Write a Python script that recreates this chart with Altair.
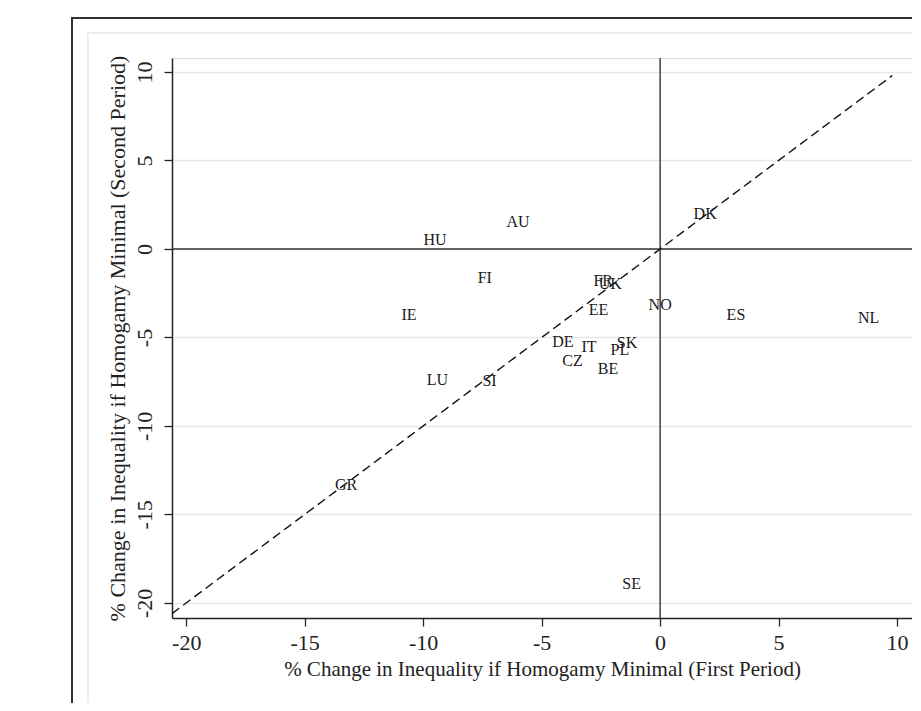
import altair as alt
import pandas as pd

countries = ["DK", "AU", "HU", "FI", "FR", "UK", "NO", "IE", "EE", "ES", "NL",
             "DE", "SK", "IT", "PL", "CZ", "BE", "LU", "SI", "GR", "SE"]
first_period = [1.9, -6.0, -9.5, -7.4, -2.4, -2.1, 0.0, -10.6, -2.6, 3.2, 8.8,
                -4.1, -1.4, -3.0, -1.7, -3.7, -2.2, -9.4, -7.2, -13.25, -1.2]
second_period = [2.0, 1.5, 0.5, -1.65, -1.8, -2.0, -3.15, -3.75, -3.45, -3.75, -3.9,
                 -5.25, -5.3, -5.55, -5.7, -6.35, -6.8, -7.4, -7.45, -13.35, -18.95]

diag_x = [-20.6, 9.8]
diag_y = [-20.6, 9.8]
zero_line = [0]

x_ticks = [-20, -15, -10, -5, 0, 5, 10]
y_ticks = [-20, -15, -10, -5, 0, 5, 10]
x_domain = [-20.6, 10.63]
y_domain = [-20.85, 10.79]

x_title = "% Change in Inequality if Homogamy Minimal (First Period)"
y_title = "% Change in Inequality if Homogamy Minimal (Second Period)"

FONT = "Liberation Serif"
LABEL_EXPR = "replace(datum.label, '\u2212', '-')"

pts = pd.DataFrame({"country": countries, "first": first_period, "second": second_period})
diag = pd.DataFrame({"x": diag_x, "y": diag_y})
zero = pd.DataFrame({"v": zero_line})
one = pd.DataFrame({"a": [0]})

xscale = alt.Scale(domain=x_domain, nice=False, zero=False)
yscale = alt.Scale(domain=y_domain, nice=False, zero=False)

xaxis = alt.Axis(values=x_ticks, title=x_title, grid=False, domainColor="#222",
                 domainWidth=1.5, tickColor="#222", tickSize=8, tickWidth=1.3,
                 labelExpr=LABEL_EXPR,
                 labelFont=FONT, labelFontSize=22, labelColor="#222", labelPadding=6,
                 titleFont=FONT, titleFontSize=21, titleFontWeight="normal",
                 titleColor="#222", titlePadding=5)
yaxis = alt.Axis(values=y_ticks, title=y_title, grid=True, gridColor="#e8e8e8",
                 gridWidth=1.5, domainColor="#222", domainWidth=1.5, tickColor="#222",
                 tickSize=8, tickWidth=1.3, labelAngle=-90, labelAlign="center",
                 labelBaseline="bottom", labelExpr=LABEL_EXPR,
                 labelFont=FONT, labelFontSize=22,
                 labelColor="#222", labelPadding=8, titleFont=FONT, titleFontSize=22,
                 titleFontWeight="normal", titleColor="#222", titlePadding=4)

base_pts = alt.Chart(pts).mark_text(font=FONT, fontSize=16, color="#1a1a1a",
                                    baseline="middle", align="center").encode(
    x=alt.X("first:Q", scale=xscale, axis=xaxis),
    y=alt.Y("second:Q", scale=yscale, axis=yaxis),
    text="country:N",
)

hline = alt.Chart(zero).mark_rule(color="#333", strokeWidth=1.4).encode(
    y=alt.Y("v:Q", scale=yscale))
vline = alt.Chart(zero).mark_rule(color="#333", strokeWidth=1.4).encode(
    x=alt.X("v:Q", scale=xscale))

dline = alt.Chart(diag).mark_line(color="#111", strokeWidth=1.4,
                                  strokeDash=[9, 5]).encode(
    x=alt.X("x:Q", scale=xscale), y=alt.Y("y:Q", scale=yscale))

outer = alt.Chart(one).mark_rect(fill="transparent", stroke="#333", strokeWidth=2).encode(
    x=alt.value(-100), x2=alt.value(1000), y=alt.value(-40), y2=alt.value(1000))
inner = alt.Chart(one).mark_rect(fill="transparent", stroke="#eeeeee", strokeWidth=2).encode(
    x=alt.value(-84), x2=alt.value(1000), y=alt.value(-25), y2=alt.value(649))

chart = alt.layer(outer, inner, hline, vline, dline, base_pts).properties(
    width=740, height=560,
    padding={"left": 164, "top": 50, "right": 0, "bottom": 85},
    autosize=alt.AutoSizeParams(type="none"),
).configure_view(strokeWidth=0).configure(background="white")

chart.save("out.html", embed_options={"renderer": "svg", "actions": False})
